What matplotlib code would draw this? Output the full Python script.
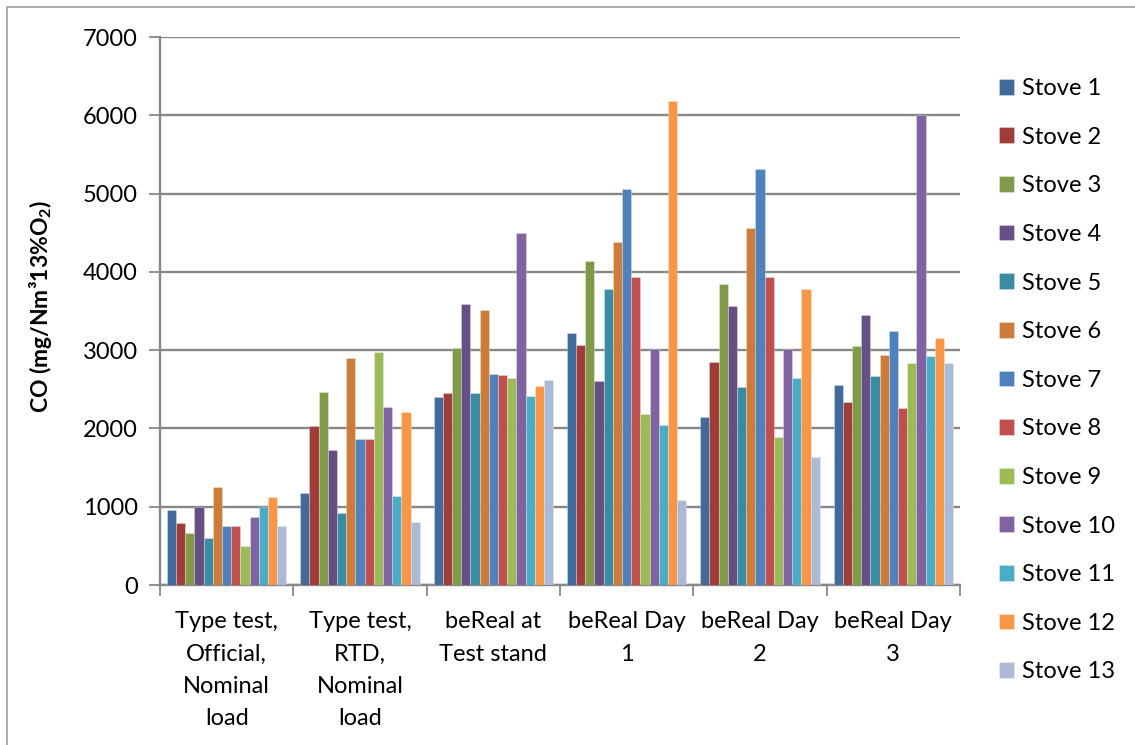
import matplotlib
matplotlib.use("Agg")
import matplotlib.pyplot as plt
from matplotlib.patches import Rectangle
import numpy as np

categories = [
    "Type test,\nOfficial,\nNominal\nload",
    "Type test,\nRTD,\nNominal\nload",
    "beReal at\nTest stand",
    "beReal Day\n1",
    "beReal Day\n2",
    "beReal Day\n3",
]

stove_names = [f"Stove {i}" for i in range(1, 14)]

# CO per stove, one list per stove across the six test conditions
stove_1 = [960, 1180, 2400, 3220, 2140, 2550]
stove_2 = [790, 2030, 2450, 3070, 2850, 2340]
stove_3 = [670, 2470, 3030, 4140, 3840, 3050]
stove_4 = [1000, 1730, 3590, 2600, 3570, 3450]
stove_5 = [600, 920, 2450, 3780, 2530, 2670]
stove_6 = [1250, 2900, 3510, 4380, 4560, 2940]
stove_7 = [750, 1870, 2690, 5060, 5320, 3240]
stove_8 = [750, 1870, 2680, 3940, 3940, 2260]
stove_9 = [500, 2980, 2640, 2190, 1890, 2830]
stove_10 = [875, 2270, 4500, 3020, 3020, 6000]
stove_11 = [1000, 1140, 2410, 2050, 2650, 2920]
stove_12 = [1120, 2210, 2545, 6180, 3780, 3155]
stove_13 = [750, 800, 2625, 1090, 1630, 2840]

series = [stove_1, stove_2, stove_3, stove_4, stove_5, stove_6, stove_7,
          stove_8, stove_9, stove_10, stove_11, stove_12, stove_13]

colors = ["#416A9B", "#9E3D3A", "#7F9A48", "#664F84", "#3B8BA2", "#CC7B38",
          "#4F81BD", "#C0504D", "#9BBB59", "#8064A2", "#4BACC6", "#F79646",
          "#AABAD7"]

plt.rcParams["font.family"] = ["Lato", "DejaVu Sans"]
plt.rcParams["mathtext.fontset"] = "custom"
plt.rcParams["mathtext.bf"] = "Lato:bold"
plt.rcParams["mathtext.rm"] = "Lato:bold"
plt.rcParams["mathtext.default"] = "bf"

fig = plt.figure(figsize=(11.35, 7.45), dpi=100)
ax = fig.add_axes([160 / 1135, 1 - 585 / 745, 800 / 1135, 548 / 745])

grid_color = "#878787"
fs = 17
n = len(series)
bar_w = 1.0 / (n + 1.5)
x = np.arange(len(categories))
for i, (vals, col, name) in enumerate(zip(series, colors, stove_names)):
    offs = (i - (n - 1) / 2) * bar_w
    ax.bar(x + offs, vals, width=bar_w, color=col, label=name,
           edgecolor=(1, 1, 1, 0.5), linewidth=0.4, zorder=3)

ax.set_xlim(-0.5, len(categories) - 0.5)
ax.set_ylim(0, 7000)
ax.set_yticks(np.arange(0, 7001, 1000))
ax.yaxis.grid(True, color=grid_color, linewidth=1.7, zorder=0)
ax.set_axisbelow(True)

ax.set_xticks(x)
ax.set_xticklabels(categories, fontsize=fs, linespacing=1.66)
ax.set_xticks(np.arange(-0.5, len(categories), 1.0), minor=True)
ax.tick_params(axis="x", which="major", length=0, pad=19)
ax.tick_params(axis="x", which="minor", length=8, width=1.3, color=grid_color)
ax.tick_params(axis="y", length=8, width=1.3, color=grid_color,
               labelsize=fs, pad=8)

for side in ("top", "right"):
    ax.spines[side].set_visible(False)
for side in ("left", "bottom"):
    ax.spines[side].set_color(grid_color)
    ax.spines[side].set_linewidth(1.7)

fig.text(40 / 1135, 1 - 306 / 745, r"CO (mg/Nm³13%O$_2$)", rotation=90,
         fontsize=16.5, fontweight="bold", ha="center", va="center")

leg = fig.legend(loc="upper left", bbox_to_anchor=(999 / 1135, 1 - 78 / 745),
                 frameon=False, fontsize=fs, handlelength=0.65,
                 handleheight=0.65, handletextpad=0.33, labelspacing=1.17,
                 borderaxespad=0, borderpad=0)

# chart frame
fig.patches.append(Rectangle((7 / 1135, -0.1), 1.2, 1 - 7 / 745 + 0.1,
                             transform=fig.transFigure, fill=False,
                             edgecolor="#A6A6A6", linewidth=1.3))

fig.savefig("out.png", dpi=100)
